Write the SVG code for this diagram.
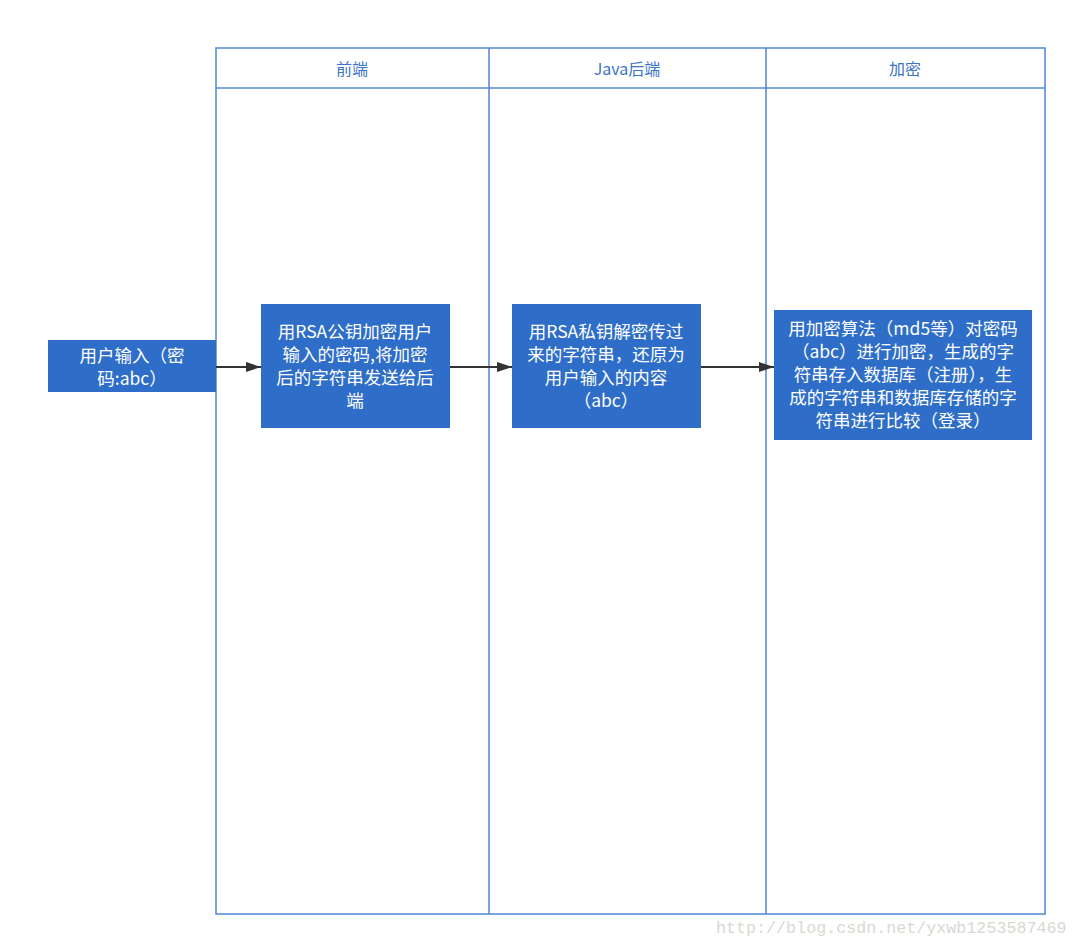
<svg xmlns="http://www.w3.org/2000/svg" width="1077" height="947" viewBox="0 0 1077 947">
<style>
.lane{fill:none;stroke:#4f86d6;stroke-width:1.5}
.hdr{font-family:"Noto Sans CJK SC","Liberation Sans",sans-serif;font-size:16px;fill:#3c74c8;text-anchor:middle}
.box{fill:#2e6ec8}
.t{font-family:"Noto Sans CJK SC","Liberation Sans",sans-serif;font-size:17.5px;fill:#ffffff;text-anchor:middle}
.edge{stroke:#333333;stroke-width:2;fill:none}
.wm{font-family:"Liberation Mono",monospace;font-size:16.7px;fill:#d9d9d2}
</style>
<defs>
<marker id="arr" markerWidth="15" markerHeight="10" refX="15" refY="5" orient="auto" markerUnits="userSpaceOnUse"><path d="M0,0 L15,5 L0,10 Z" fill="#333333"/></marker>
</defs>
<rect width="1077" height="947" fill="#ffffff"/>
<g id="lanes">
<rect class="lane" x="216" y="48" width="829" height="866"/>
<line class="lane" x1="216" y1="88" x2="1045" y2="88"/>
<line class="lane" x1="489" y1="48" x2="489" y2="914"/>
<line class="lane" x1="766" y1="48" x2="766" y2="914"/>
<text class="hdr" x="352" y="75">前端</text>
<text class="hdr" x="627" y="75">Java后端</text>
<text class="hdr" x="905" y="75">加密</text>
</g>
<g id="connectors">
<line class="edge" x1="216" y1="367" x2="261" y2="367" marker-end="url(#arr)"/>
<line class="edge" x1="450" y1="367" x2="512" y2="367" marker-end="url(#arr)"/>
<line class="edge" x1="701" y1="367" x2="774" y2="367" marker-end="url(#arr)"/>
</g>
<g id="n1">
<rect class="box" x="48" y="340" width="168" height="52"/>
<text class="t" x="132" y="362">用户输入（密</text>
<text class="t" x="132" y="385">码:abc）</text>
</g>
<g id="n2">
<rect class="box" x="261" y="304" width="189" height="124"/>
<text class="t" x="355" y="338">用RSA公钥加密用户</text>
<text class="t" x="355" y="361">输入的密码,将加密</text>
<text class="t" x="355" y="384">后的字符串发送给后</text>
<text class="t" x="355" y="407">端</text>
</g>
<g id="n3">
<rect class="box" x="512" y="304" width="189" height="124"/>
<text class="t" x="606" y="338">用RSA私钥解密传过</text>
<text class="t" x="606" y="361">来的字符串，还原为</text>
<text class="t" x="606" y="384">用户输入的内容</text>
<text class="t" x="606" y="407">（abc）</text>
</g>
<g id="n4">
<rect class="box" x="774" y="310" width="258" height="130"/>
<text class="t" x="903" y="335">用加密算法（md5等）对密码</text>
<text class="t" x="903" y="358">（abc）进行加密，生成的字</text>
<text class="t" x="903" y="381">符串存入数据库（注册），生</text>
<text class="t" x="903" y="404">成的字符串和数据库存储的字</text>
<text class="t" x="903" y="427">符串进行比较（登录）</text>
</g>
<text class="wm" x="716" y="933">http://blog.csdn.net/yxwb1253587469</text>
</svg>
